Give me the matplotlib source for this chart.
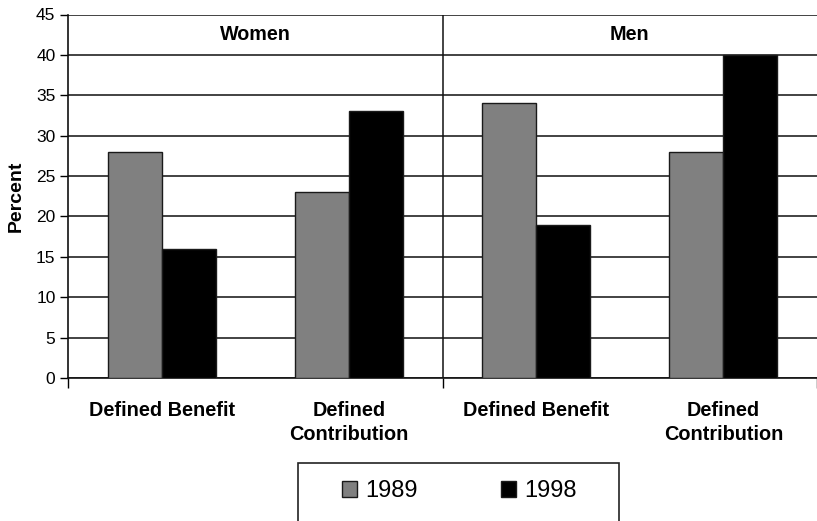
import matplotlib
matplotlib.use("Agg")
import matplotlib.pyplot as plt
import numpy as np
from matplotlib.patches import Rectangle

plt.rcParams["font.family"] = ["Liberation Sans", "DejaVu Sans"]

# --- Data ---------------------------------------------------------------------
groups = ["Women", "Men"]
categories = ["Defined Benefit", "Defined\nContribution",
              "Defined Benefit", "Defined\nContribution"]
years = ["1989", "1998"]
values_1989 = [28, 23, 34, 28]
values_1998 = [16, 33, 19, 40]
colors = ["#808080", "#000000"]

# --- Plot ---------------------------------------------------------------------
fig = plt.figure(figsize=(8.17, 5.21), dpi=100)
ax = fig.add_axes([68 / 817, 1 - 378 / 521, 1 - 68 / 817, (378 - 14.5) / 521])

x = np.arange(len(categories))
w = 0.288
for i, (vals, yr) in enumerate(zip([values_1989, values_1998], years)):
    ax.bar(x + (i - 0.5) * w, vals, width=w, color=colors[i],
           edgecolor="#1a1a1a", linewidth=1.0, label=yr, zorder=3)

ax.set_xlim(-0.5, len(categories) - 0.5)
ax.set_ylim(0, 45)
ax.set_yticks(range(0, 46, 5))
ax.tick_params(axis="y", labelsize=12.5, length=6, width=1, pad=3)
ax.yaxis.grid(True, color="#222222", linewidth=1.2, zorder=0)
ax.set_axisbelow(True)
ax.set_ylabel("Percent", fontsize=14, fontweight="bold", labelpad=8)

# group boundary ticks only
ax.set_xticks([-0.5, 1.5, 3.5])
ax.set_xticklabels([])
ax.tick_params(axis="x", length=7, width=1)
ax.axvline(1.5, color="#111111", linewidth=1.1, zorder=2)

for s in ["top", "right"]:
    ax.spines[s].set_visible(False)
for s in ["left", "bottom"]:
    ax.spines[s].set_linewidth(1.2)
    ax.spines[s].set_color("#111111")

# category labels below the axis
for xi, lab in zip(x, categories):
    ax.text(xi, -2.9, lab, ha="center", va="top", fontsize=14.3,
            fontweight="bold", linespacing=1.3)

# group labels inside the plot
for gi, g in enumerate(groups):
    ax.text(gi * 2 + 0.5, 42.5, g, ha="center", va="center",
            fontsize=14.2, fontweight="bold")

# legend with a box that runs off the bottom edge
fig.patches.append(Rectangle((298 / 817, -0.02), 321 / 817, 1 - 463 / 521 + 0.02,
                             transform=fig.transFigure, fill=False,
                             edgecolor="#222222", linewidth=1.2))
fig.legend(loc="center", bbox_to_anchor=(459.5 / 817, 1 - 491 / 521),
           ncol=2, frameon=False, fontsize=17, handlelength=0.65,
           handleheight=0.65, handletextpad=0.35, columnspacing=3.5)

fig.savefig("out.png", dpi=100)
plt.close(fig)
